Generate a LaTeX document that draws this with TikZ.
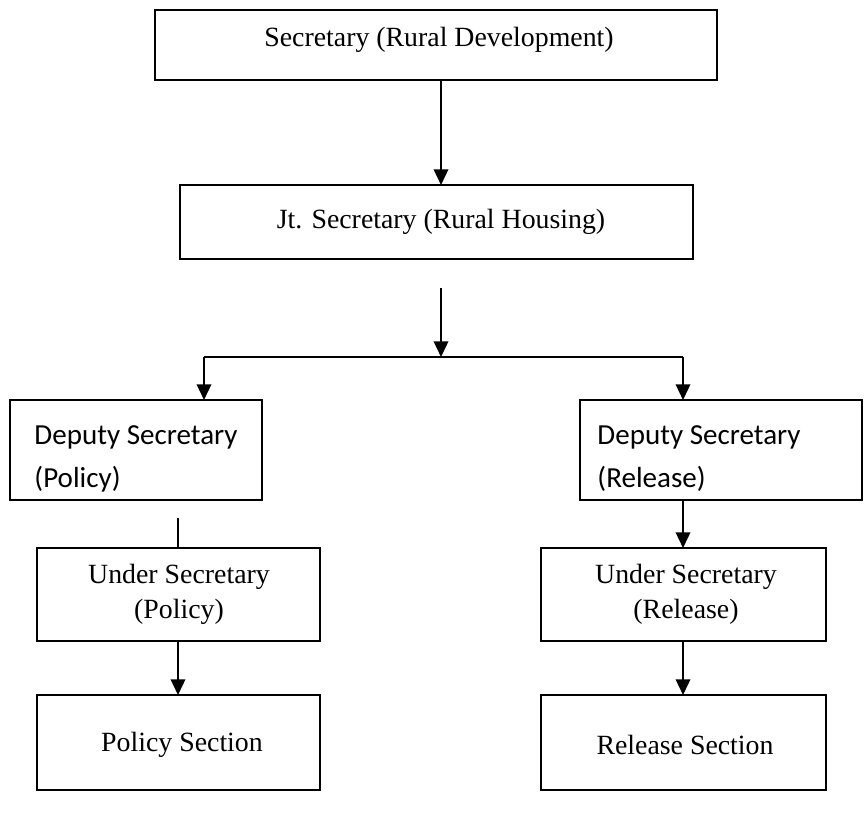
\documentclass[tikz,border=0pt]{standalone}
\usepackage{fontspec}
\setmainfont{Liberation Serif}
\newfontfamily\calibrifont{Carlito}
\usetikzlibrary{arrows.meta}
\newcommand\pxu{0.4132pt}
\begin{document}
\begin{tikzpicture}[x=0.4132pt,y=-0.4132pt,
  box/.style={draw, line width=0.65pt, rectangle, inner sep=0pt, outer sep=0pt, anchor=north west},
  lbl/.style={font=\fontsize{11.5}{14.5}\selectfont, inner sep=0pt, align=center},
  slbl/.style={font=\calibrifont\fontsize{12}{17.8}\selectfont, inner sep=0pt, align=left, anchor=west},
  arr/.style={line width=0.85pt, -{Triangle[width=6pt,length=6.5pt]}},
  ln/.style={line width=0.85pt}]
\useasboundingbox (0,0) rectangle (864,819);
% boxes
\node[box, minimum width=562*\pxu, minimum height=70*\pxu] (b1) at (155,10) {};
\node[box, minimum width=513*\pxu, minimum height=74*\pxu] (b2) at (180,185) {};
\node[box, minimum width=252*\pxu, minimum height=100*\pxu] (b3) at (10,400) {};
\node[box, minimum width=282*\pxu, minimum height=100*\pxu] (b4) at (580,400) {};
\node[box, minimum width=283*\pxu, minimum height=93*\pxu] (b5) at (37,548) {};
\node[box, minimum width=283*\pxu, minimum height=95*\pxu] (b6) at (37,695) {};
\node[box, minimum width=285*\pxu, minimum height=93*\pxu] (b7) at (541,548) {};
\node[box, minimum width=285*\pxu, minimum height=95*\pxu] (b8) at (541,695) {};
% texts
\node[lbl] (t1) at (439,40) {Secretary (Rural Development)};
\node[lbl] (t2) at (441,222) {Jt. Secretary (Rural Housing)};
\node[slbl] (t3) at (34,458.5) {Deputy Secretary\\(Policy)};
\node[slbl] (t4) at (597,458.5) {Deputy Secretary\\(Release)};
\node[lbl] (t5) at (179,594.5) {Under Secretary\\(Policy)};
\node[lbl] (t7) at (686,594.5) {Under Secretary\\(Release)};
\node[lbl] (t6) at (182,745) {Policy Section};
\node[lbl] (t8) at (685,745) {Release Section};
% connectors
\coordinate (a1) at (441,80);
\coordinate (a2) at (441,288);
\coordinate (hub) at (441,357);
\coordinate (hl) at (204,357);
\coordinate (hr) at (683,357);
\coordinate (l3) at (178,518);
\draw[arr] (a1) -- (a1 |- b2.north);
\draw[arr] (a2) -- (hub);
\draw[ln] (hl) -- (hr);
\draw[arr] (hl) -- (hl |- b3.north);
\draw[arr] (hr) -- (hr |- b4.north);
\draw[ln] (l3) -- (l3 |- b5.north);
\draw[arr] (l3 |- b5.south) -- (l3 |- b6.north);
\draw[arr] (hr |- b4.south) -- (hr |- b7.north);
\draw[arr] (hr |- b7.south) -- (hr |- b8.north);
\end{tikzpicture}
\end{document}
